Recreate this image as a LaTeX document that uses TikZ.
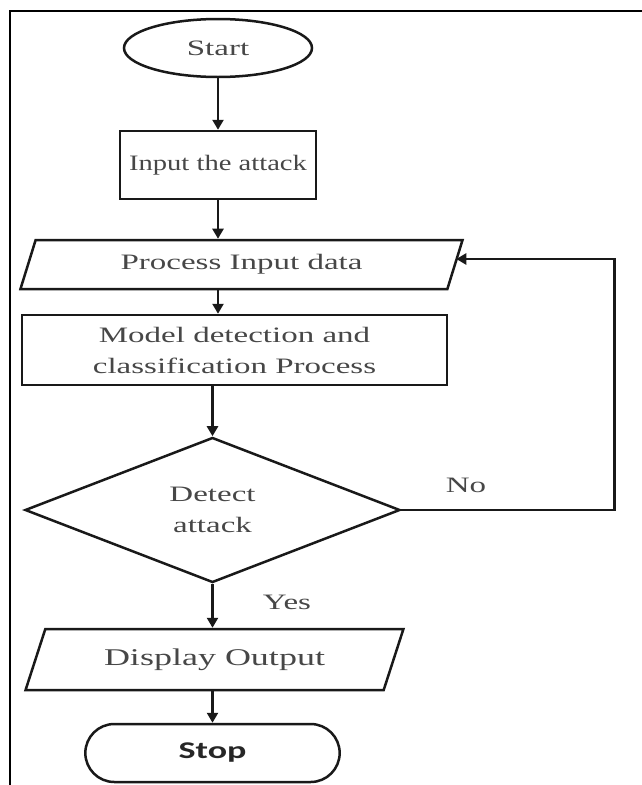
\documentclass[tikz,border=0pt]{standalone}
\usepackage{fontspec}
\setmainfont{Liberation Serif}[FakeStretch=1.5]
\newfontfamily\inputfont{Liberation Serif}[FakeStretch=1.3]
\newfontfamily\stopfont{Carlito}[FakeStretch=1.5]
\usetikzlibrary{shapes.geometric,shapes.misc,arrows.meta}

\tikzset{
  flowline/.style={line width=2.5pt, draw=black!90},
  arr/.style={flowline, -{Triangle[length=10pt,width=11pt]}},
  txt/.style={text=black!72, font=\fontsize{22}{31}\selectfont},
  terminal/.style={ellipse, flowline, txt, minimum width=188pt, minimum height=58pt},
  procbox/.style={rectangle, flowline, txt, align=center},
  iobox/.style={trapezium, flowline, txt, trapezium stretches=true},
  decision/.style={diamond, flowline, txt, align=center, minimum width=375pt, minimum height=144pt},
}

\begin{document}
\begin{tikzpicture}[x=1pt,y=-1pt]
\useasboundingbox (0,0) rectangle (642,785);

%draw frame
\draw[line width=2.8pt] (10,785) -- (10,11) -- (642,11);

%draw blocks
\node[terminal] (start) at (218,48) {Start};
\node[procbox, minimum width=196pt, minimum height=68pt, font=\inputfont\fontsize{22}{28}\selectfont] (input) at (218,165) {Input the attack};
\node[iobox, trapezium left angle=71, trapezium right angle=109,
      minimum width=443pt, minimum height=49pt] (proc) at (241.5,264.5) {Process Input data};
\node[procbox, minimum width=425pt, minimum height=70pt] (model) at (234.5,350) {Model detection and\\classification Process};
\node[decision] (detect) at (212.5,510) {Detect\\attack};
\node[iobox, trapezium left angle=65, trapezium right angle=115, font=\fontsize{24}{30}\selectfont,
      minimum width=379pt, minimum height=61pt] (disp) at (214.5,659.5) {Display Output};
\node[rounded rectangle, flowline, minimum width=261pt, minimum height=58pt,
      font=\stopfont\bfseries\fontsize{24}{28}\selectfont, text=black!85] (stop) at (212.5,753) {Stop};

%draw labels
\node[txt] (no) at (466,485) {No};
\node[txt] (yes) at (287,602) {Yes};

%draw arrows
\draw[arr] (start) -- (input);
\draw[arr] (input.south) -- (input.south |- proc.north);
\draw[arr] (input.south |- proc.south) -- (input.south |- model.north);
\draw[arr] (model.south -| detect.north) -- (detect.north);
\draw[arr] (detect.south) -- (detect.south |- disp.north);
\draw[arr] (stop.north |- disp.south) -- (stop.north);
\draw[arr] (detect.east) -- ++(213,0) |- ([yshift=5.5pt]proc.east);

\end{tikzpicture}
\end{document}
